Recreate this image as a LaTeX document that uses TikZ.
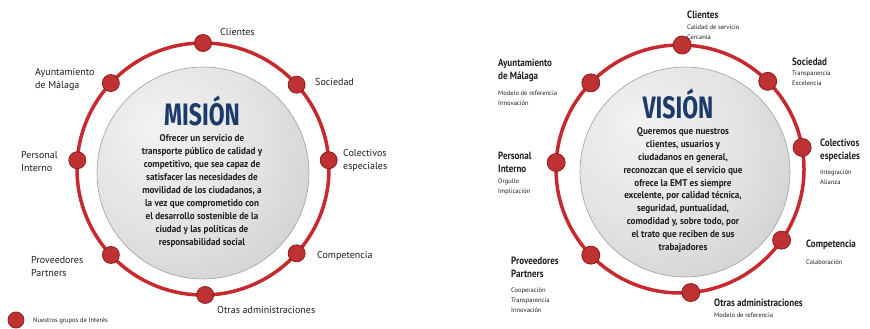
\documentclass[tikz,border=0pt]{standalone}
\usepackage{fontspec}
\setmainfont{PT Sans}
\newfontfamily\condfont[FakeStretch=0.86]{PT Sans}
\newfontfamily\bodyfont[FakeStretch=0.93]{PT Sans}
\newfontfamily\titlefont[FakeStretch=0.74]{Fira Sans}
\usetikzlibrary{calc}
\definecolor{ringred}{HTML}{C62A2F}
\definecolor{dotred}{HTML}{BF3233}
\definecolor{dotedge}{HTML}{8E1C1C}
\definecolor{txt}{HTML}{1E1E1E}
\definecolor{navy}{HTML}{1C3B6B}
\pgfdeclareradialshading{metal}{\pgfpoint{-12bp}{12bp}}{color(0bp)=(gray!10); color(22bp)=(gray!22); color(42bp)=(gray!42); color(58bp)=(gray!60); color(66bp)=(gray!68)}
\tikzset{
  ring/.style={draw=ringred, line width=3.5pt},
  dot/.style={circle, fill=dotred, draw=dotedge, line width=0.8pt, minimum size=17pt, inner sep=0pt},
  lbl/.style={anchor=west, inner sep=0pt, align=left, text=txt, font=\fontsize{10}{13}\selectfont},
  lblB/.style={lbl, font=\condfont\bfseries\fontsize{10.5}{13}\selectfont},
  sublbl/.style={anchor=west, inner sep=0pt, align=left, text=txt, font=\fontsize{6.5}{10}\selectfont},
  ballnode/.style={circle, inner sep=0pt, shading=metal, draw=gray!75, line width=0.6pt},
  titletext/.style={anchor=base, text=navy, font=\titlefont\bfseries\fontsize{31}{31}\selectfont, inner sep=0pt},
  bodytext/.style={align=center, text=txt, font=\bodyfont\bfseries\fontsize{9.8}{12.9}\selectfont, inner sep=0pt},
}
\begin{document}
\begin{tikzpicture}[x=1pt, y=-1pt]
\fill[white] (0,0) rectangle (870,329);
\useasboundingbox (0,0) rectangle (870,329);

% ---------- left: MISION ----------
\coordinate (cL) at (203,169);
\node[ballnode, minimum size=212pt] (ballL) at (203,173) {};
\draw[ring] (cL) circle (126pt);
\node[dot] (dL1) at ($(cL)+(90:126pt)$) {};
\node[dot] (dL2) at ($(cL)+(42:126pt)$) {};
\node[dot] (dL3) at ($(cL)+(4:126pt)$) {};
\node[dot] (dL4) at ($(cL)+(-42:126pt)$) {};
\node[dot] (dL5) at ($(cL)+(-89:126pt)$) {};
\node[dot] (dL6) at ($(cL)+(-137:126pt)$) {};
\node[dot] (dL7) at ($(cL)+(176:126pt)$) {};
\node[dot] (dL8) at ($(cL)+(137:126pt)$) {};

\node[titletext] (tL) at (202,125) {MISIÓN};
\node[bodytext] (bL) at (202,191) {Ofrecer un servicio de\\
transporte público de calidad y\\
competitivo, que sea capaz de\\
satisfacer las necesidades de\\
movilidad de los ciudadanos, a\\
la vez que comprometido con\\
el desarrollo sostenible de la\\
ciudad y las políticas de\\
responsabilidad social};

\node[lbl] (lL1) at (220,32) {Clientes};
\node[lbl] (lL2) at (315,82) {Sociedad};
\node[lbl] (lL3) at (343,160.5) {Colectivos\\especiales};
\node[lbl] (lL4) at (317,256) {Competencia};
\node[lbl] (lL5) at (217,310) {Otras administraciones};
\node[lbl] (lL6) at (31,266.5) {Proveedores\\Partners};
\node[lbl] (lL7) at (21,161.5) {Personal\\Interno};
\node[lbl] (lL8) at (35,79.5) {Ayuntamiento\\de Málaga};

\node[dot, minimum size=16pt] (legdot) at (16,320) {};
\node[sublbl] (legtxt) at (33,321) {Nuestros grupos de Interés};

% ---------- right: VISION ----------
\coordinate (cR) at (680,169);
\node[ballnode, minimum size=210pt] (ballR) at (685,172) {};
\draw[ring] (cR) circle (124pt);
\node[dot, minimum size=18pt] (dR1) at ($(cR)+(89:124pt)$) {};
\node[dot, minimum size=18pt] (dR2) at ($(cR)+(45:124pt)$) {};
\node[dot, minimum size=18pt] (dR3) at ($(cR)+(10:124pt)$) {};
\node[dot, minimum size=18pt] (dR4) at ($(cR)+(-35:124pt)$) {};
\node[dot, minimum size=18pt] (dR5) at ($(cR)+(-85:124pt)$) {};
\node[dot, minimum size=18pt] (dR6) at ($(cR)+(-136:124pt)$) {};
\node[dot, minimum size=18pt] (dR7) at ($(cR)+(177:124pt)$) {};
\node[dot, minimum size=18pt] (dR8) at ($(cR)+(136:124pt)$) {};

\node[titletext] (tR) at (678,118) {VISIÓN};
\node[bodytext] (bR) at (683,190) {Queremos que nuestros\\
clientes, usuarios y\\
ciudadanos en general,\\
reconozcan que el servicio que\\
ofrece la EMT es siempre\\
excelente, por calidad técnica,\\
seguridad, puntualidad,\\
comodidad y, sobre todo, por\\
el trato que reciben de sus\\
trabajadores};

\node[lblB] (lR1) at (687,15) {Clientes};
\node[sublbl] (sR1) at (687,32) {Calidad de servicio\\Cercanía};
\node[lblB] (lR2) at (792,62) {Sociedad};
\node[sublbl] (sR2) at (792,78) {Transparencia\\Excelencia};
\node[lblB] (lR3) at (820,150.5) {Colectivos\\especiales};
\node[sublbl] (sR3) at (820,177) {Integración\\Alianza};
\node[lblB] (lR4) at (806,245) {Competencia};
\node[sublbl] (sR4) at (806,262) {Colaboración};
\node[lblB] (lR5) at (714,303) {Otras administraciones};
\node[sublbl] (sR5) at (714,315) {Modelo de referencia};
\node[lblB] (lR6) at (511,267.5) {Proveedores\\Partners};
\node[sublbl] (sR6) at (511,300) {Cooperación\\Transparencia\\Innovación};
\node[lblB] (lR7) at (498,162.5) {Personal\\Interno};
\node[sublbl] (sR7) at (498,187) {Orgullo\\Implicación};
\node[lblB] (lR8) at (498,70) {Ayuntamiento\\de Málaga};
\node[sublbl] (sR8) at (498,98) {Modelo de referencia\\Innovación};
\end{tikzpicture}
\end{document}
